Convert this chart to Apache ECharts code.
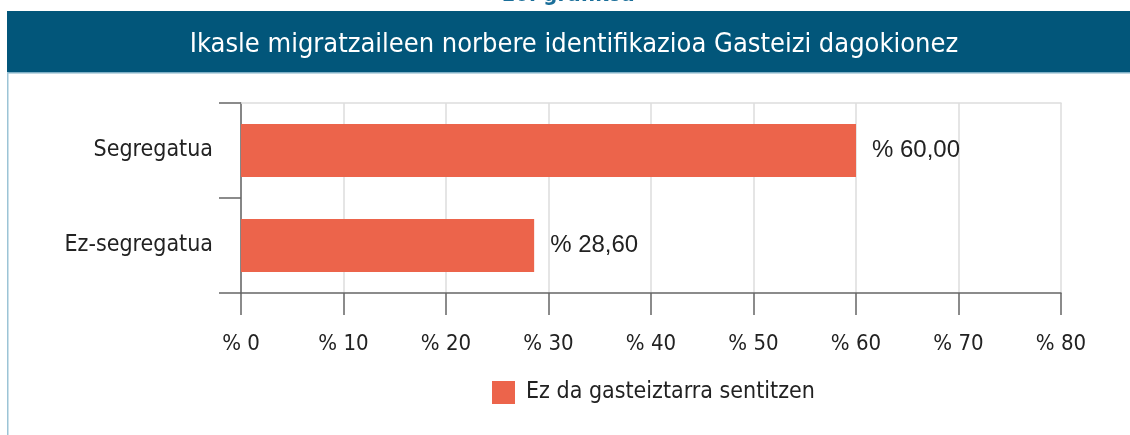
<!DOCTYPE html>
<html>
<head>
<meta charset="utf-8">
<script src="https://cdn.jsdelivr.net/npm/echarts@6/dist/echarts.min.js"></script>
<style>
html,body{margin:0;padding:0;background:#fff;}
#chart{width:1130px;height:435px;}
</style>
</head>
<body>
<div id="chart"></div>
<script>
var categories = ["Segregatua", "Ez-segregatua"];
var seriesName = "Ez da gasteiztarra sentitzen";
var values = [60.00, 28.60];
var xTicks = [0, 10, 20, 30, 40, 50, 60, 70, 80];
var title = "Ikasle migratzaileen norbere identifikazioa Gasteizi dagokionez";
var caption = "10. grafikoa";

var FONT = '"DejaVu Sans Condensed", "Liberation Sans Narrow", "Open Sans", sans-serif';
var chart = echarts.init(document.getElementById('chart'));
chart.setOption({
  animation: false,
  backgroundColor: '#ffffff',
  graphic: [
    { type: 'rect', shape: { x: 7, y: 11, width: 1130, height: 61 }, style: { fill: '#02567a' }, z: 0 },
    { type: 'rect', shape: { x: 7, y: 72, width: 1130, height: 1.5 }, style: { fill: '#7fb0c6' }, z: 0 },
    { type: 'rect', shape: { x: 7, y: 72, width: 1.5, height: 400 }, style: { fill: '#9cc4d6' }, z: 0 },
    { type: 'text', x: 568, y: 6, style: { text: caption, fill: '#1b6f9a', font: 'bold 22px ' + FONT, textAlign: 'center', textVerticalAlign: 'bottom' }, z: 1 },
    { type: 'text', x: 574, y: 45, style: { text: title, fill: '#ffffff', font: '27px ' + FONT, textAlign: 'center', textVerticalAlign: 'middle' }, z: 2 }
  ],
  legend: {
    data: [seriesName],
    left: 487, top: 376,
    itemWidth: 23, itemHeight: 23, itemGap: 10,
    icon: 'rect',
    textStyle: { fontFamily: FONT, fontSize: 23, color: '#222', padding: [0, 0, 0, 6] }
  },
  grid: { left: 241, right: 69, top: 103, bottom: 142 },
  xAxis: [{
    type: 'value', min: 0, max: 80, interval: 10,
    axisLine: { show: true, lineStyle: { color: '#666', width: 1.5 } },
    axisTick: { show: true, length: 22, lineStyle: { color: '#666', width: 1.5 } },
    splitLine: { show: true, lineStyle: { color: '#dddddd', width: 1.5 } },
    axisLabel: {
      margin: 40, fontFamily: FONT, fontSize: 22, color: '#222',
      formatter: function (v) { return xTicks.indexOf(v) >= 0 ? '% ' + v : ''; }
    }
  }, {
    type: 'value', min: 0, max: 80, position: 'top',
    axisLine: { show: true, lineStyle: { color: '#dddddd', width: 1.5 } },
    axisTick: { show: false }, axisLabel: { show: false }, splitLine: { show: false }
  }],
  yAxis: {
    type: 'category', data: categories, inverse: true,
    axisLine: { show: true, lineStyle: { color: '#666', width: 1.5 } },
    axisTick: { show: true, length: 22, lineStyle: { color: '#666', width: 1.5 } },
    axisLabel: { margin: 28, fontFamily: FONT, fontSize: 23, color: '#222', padding: [4, 0, 0, 0] }
  },
  series: [{
    name: seriesName, type: 'bar', data: values, barWidth: 53, xAxisIndex: 0,
    itemStyle: { color: '#ec644b' },
    label: {
      show: true, position: 'right', distance: 16,
      fontFamily: '"Liberation Sans", Arial, sans-serif', fontSize: 24, color: '#222',
      formatter: function (p) { return '% ' + p.value.toFixed(2).replace('.', ','); }
    }
  }]
});
</script>
</body>
</html>
